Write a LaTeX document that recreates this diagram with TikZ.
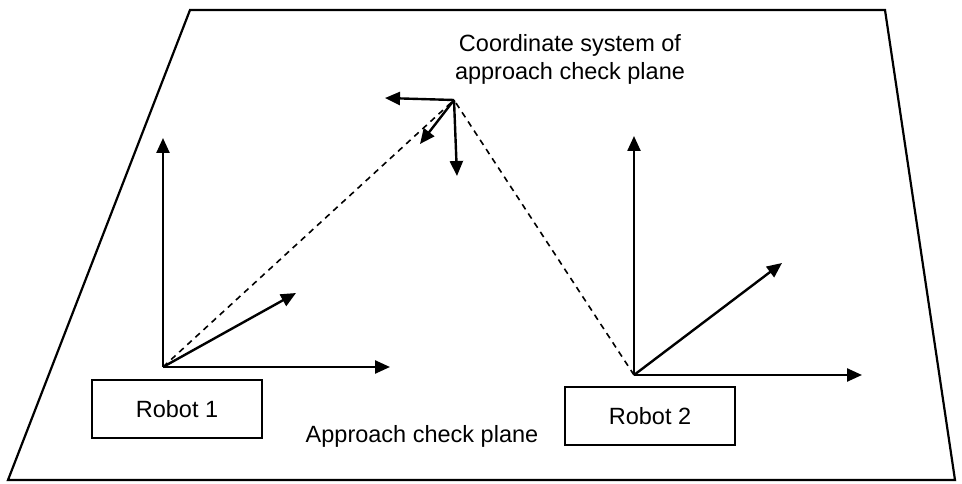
\documentclass[tikz,border=0pt]{standalone}
\usepackage{fontspec}
\setmainfont{Liberation Sans}
\usetikzlibrary{arrows.meta}
\begin{document}
\begin{tikzpicture}[x=1pt,y=-1pt,
  ax/.style={line width=2.4pt,-{Triangle[length=15pt,width=13pt]}},
  dsh/.style={line width=1.6pt,dash pattern=on 6pt off 5pt},
  box/.style={draw,line width=2pt,minimum width=170pt,minimum height=58pt,inner sep=0pt},
  lbl/.style={font=\fontsize{23.5}{28}\selectfont,inner sep=0pt}]
\useasboundingbox (0,0) rectangle (962,484);
\draw[line width=2.2pt] (190,10) -- (885,10) -- (955,480) -- (8,480) -- cycle;
% robot 1
\coordinate (o1) at (163,367);
\coordinate (o1u) at (163,138);
\coordinate (o1r) at (390,367);
\coordinate (o1d) at (296,293);
\draw[ax] (o1) -- (o1u);
\draw[ax] (o1) -- (o1r);
\draw[ax] (o1) -- (o1d);
% robot 2
\coordinate (o2) at (634,375);
\coordinate (o2u) at (634,136);
\coordinate (o2r) at (862,375);
\coordinate (o2d) at (782,263);
\draw[ax] (o2) -- (o2u);
\draw[ax] (o2) -- (o2r);
\draw[ax] (o2) -- (o2d);
% plane coordinate system
\coordinate (c) at (454,100);
\coordinate (cl) at (385,98);
\coordinate (cd) at (457,176);
\coordinate (cg) at (420,144);
\draw[ax] (c) -- (cl);
\draw[ax] (c) -- (cd);
\draw[ax] (c) -- (cg);
\draw[dsh] (o1) -- (c);
\draw[dsh] (o2) -- (c);
% boxes
\node[box] (r1) at (177,409) {\fontsize{23.5}{28}\selectfont Robot 1};
\node[box] (r2) at (650,416) {\fontsize{23.5}{28}\selectfont Robot 2};
\node[lbl] (t1) at (570,45) {Coordinate system of};
\node[lbl] (t2) at (570,73) {approach check plane};
\node[lbl] (t3) at (422,436) {Approach check plane};
\end{tikzpicture}
\end{document}
